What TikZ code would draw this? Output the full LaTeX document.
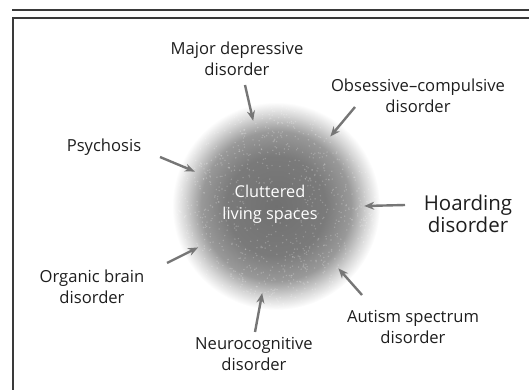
\documentclass[tikz,border=0pt]{standalone}
\usepackage{fontspec}
\setmainfont{Open Sans}
\usetikzlibrary{arrows.meta,positioning}

\definecolor{arrowgray}{HTML}{767676}
\definecolor{labelink}{HTML}{1E1E1E}
\definecolor{framegray}{HTML}{3A3A3A}
\pgfdeclareradialshading{clutter}{\pgfpoint{0bp}{0bp}}{color(0bp)=(black!56); color(12bp)=(black!52); color(18bp)=(black!40); color(22bp)=(black!16); color(25bp)=(white); color(50bp)=(white)}

\tikzset{
  cause/.style={align=center, text=labelink, inner sep=1pt, font=\fontsize{16.6}{21.5}\selectfont},
  push/.style={-{Stealth[length=10pt,width=8pt]}, line width=2.4pt, draw=arrowgray},
}

\begin{document}
\begin{tikzpicture}[x=1pt,y=-1pt]
\useasboundingbox (0,0) rectangle (529,390);
% Frame
\draw[line width=1.4pt, framegray] (12,10) -- (529,10);
\draw[line width=1.4pt, framegray] (13,390) -- (13,18) -- (529,18);

% Cluttered living spaces
\shade[shading=clutter] (276,206) circle (104);
\pgfmathsetseed{11}
\foreach \k in {1,...,900}{
  \fill[white, opacity=0.22] (276,206) ++ ({360*rnd}:{102*sqrt(rnd)}) circle (0.8);
}
\node[circle, minimum size=176pt, inner sep=0pt] (core) at (276,206) {};
\node[align=center, text=white, font=\fontsize{16.3}{22}\selectfont] (spaces) at (270,204) {Cluttered\\living spaces};

% Causes
\node[cause] (mdd) at (237,59) {Major depressive\\disorder};
\node[cause] (ocd) at (418,96) {Obsessive--compulsive\\disorder};
\node[cause] (psy) at (104,147) {Psychosis};
\node[cause, font=\fontsize{20.5}{22}\selectfont] (hoard) at (468,214) {Hoarding\\disorder};
\node[cause] (organic) at (92,287) {Organic brain\\disorder};
\node[cause] (neuro) at (254,354) {Neurocognitive\\disorder};
\node[cause] (autism) at (413,327) {Autism spectrum\\disorder};

% Arrow tails
\coordinate (mddtail) at (245,85);
\coordinate (ocdtail) at (355,107);
\coordinate (psytail) at (160,157);
\coordinate (hoardtail) at (405,205);
\coordinate (organictail) at (167,263);
\coordinate (neurotail) at (255,332);
\coordinate (autismtail) at (362,295);

% Arrows
\draw[push] (mddtail) -- (core.105);
\draw[push] (ocdtail) -- (core.52);
\draw[push] (psytail) -- (core.157);
\draw[push] (hoardtail) -- (core.0);
\draw[push] (organictail) -- (core.208);
\draw[push] (neurotail) -- (core.261);
\draw[push] (autismtail) -- (core.315);
\end{tikzpicture}
\end{document}
